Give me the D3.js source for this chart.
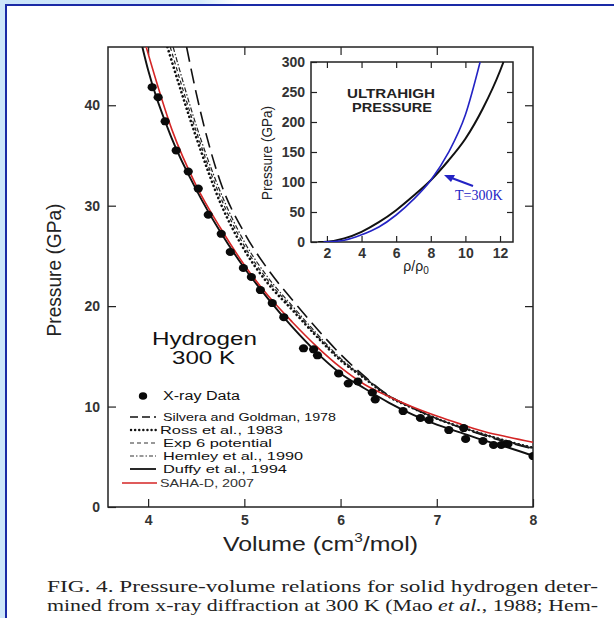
<!DOCTYPE html>
<html><head><meta charset="utf-8">
<script src="https://cdn.jsdelivr.net/npm/d3@7"></script>
<style>body{margin:0;background:#fff}svg{display:block}</style>
</head><body>
<svg id="c" width="614" height="618"></svg>
<script>
// ---------- data ----------
const duffyV = [3.94,4.0,4.25,4.5,4.75,5.0,5.25,5.5,5.75,6.0,6.25,6.5,6.75,7.0,7.25,7.5,7.75,8.0];
const duffyP = [45.8,43.5,36.6,31.6,27.4,23.8,20.7,17.9,15.4,13.3,11.8,10.4,9.2,8.2,7.4,6.6,5.9,5.1];
const sahaV = [3.98,4.25,4.5,4.75,5.0,5.25,5.5,5.75,6.0,6.25,6.5,6.75,7.0,7.25,7.5,7.75,8.0];
const sahaP = [45.8,37.5,32.0,27.8,24.1,21.0,18.4,16.0,13.9,12.2,11.0,9.95,9.05,8.25,7.5,6.95,6.45];
const silveraV = [4.40,4.5,4.75,5.0,5.25,5.5,5.75,6.0,6.25,6.5,6.75,7.0,7.25,7.5,7.75,8.0];
const silveraP = [45.8,41.2,32.4,27.3,23.6,20.6,17.8,15.2,13.0,11.1,9.85,8.8,7.9,7.1,6.4,5.8];
const rossV = [4.2,4.5,4.75,5.0,5.25,5.5,5.75,6.0,6.25,6.5,6.75,7.0,7.25,7.5,7.75,8.0];
const rossP = [45.8,36.8,30.3,25.6,22.2,19.6,17.0,14.6,12.8,11.0,9.85,8.8,7.95,7.2,6.5,5.9];
const exp6V = [4.23,4.5,4.75,5.0,5.25,5.5,5.75,6.0,6.25,6.5,6.75,7.0,7.25,7.5,7.75,8.0];
const exp6P = [45.8,37.4,30.9,26.0,22.5,19.8,17.1,14.7,12.85,11.05,9.85,8.8,7.95,7.2,6.5,5.9];
const hemleyV = [4.26,4.5,4.75,5.0,5.25,5.5,5.75,6.0,6.25,6.5,6.75,7.0,7.25,7.5,7.75,8.0];
const hemleyP = [45.8,38.0,31.4,26.4,22.8,20.0,17.3,14.8,12.9,11.1,9.9,8.8,7.95,7.2,6.5,5.85];
const xrayV = [4.042,4.104,4.177,4.292,4.417,4.521,4.625,4.76,4.854,4.99,5.073,5.167,5.29,5.41,5.615,5.72,5.76,5.98,6.08,6.18,6.33,6.36,6.65,6.83,6.92,7.125,7.28,7.30,7.48,7.59,7.67,7.74,8.0];
const xrayP = [41.8,40.8,38.4,35.5,33.4,31.7,29.1,27.2,25.4,23.8,22.9,21.6,20.3,18.9,15.8,15.7,15.1,13.3,12.3,12.5,11.4,10.7,9.55,8.86,8.66,7.66,7.86,6.77,6.57,6.17,6.17,6.27,5.07];
const xTicks = [4,5,6,7,8];
const yTicks = [0,10,20,30,40];

// inset
const insetBlackRho = [1.5,2,3,4,5,6,7,8,9,10,11,12,12.2];
const insetBlackP = [0,0.5,6,17,33,53,77,103,135,172,222,285,300];
const insetBlueRho = [1.8,2,3,4,5,6,7,8,9,10,10.85];
const insetBlueP = [0,0.2,3,12,25,45,71,103,148,212,300];
const insetXTicks = [2,4,6,8,10,12];
const insetYTicks = [0,50,100,150,200,250,300];

const legendLabels = ["X-ray Data","Silvera and Goldman, 1978","Ross et al., 1983","Exp 6 potential","Hemley et al., 1990","Duffy et al., 1994","SAHA-D, 2007"];

// ---------- drawing ----------
const SANS = "Liberation Sans, Arial, sans-serif";
const SERIF = "Liberation Serif, Times New Roman, serif";
const svg = d3.select("#c");
const defs = svg.append("defs");
const bg = defs.append("linearGradient").attr("id","bgGrad").attr("x1","0").attr("y1","0").attr("x2","1").attr("y2","0.15");
bg.append("stop").attr("offset","0").attr("stop-color","#c9e4fa");
bg.append("stop").attr("offset","0.32").attr("stop-color","#d6ebfb");
bg.append("stop").attr("offset","0.38").attr("stop-color","#ffffff");
svg.append("rect").attr("width",614).attr("height",618).attr("fill","url(#bgGrad)");
svg.append("rect").attr("x",0).attr("y",0).attr("width",6).attr("height",618).attr("fill","#cde6fa");
svg.append("rect").attr("x",6).attr("y",5).attr("width",620).attr("height",630).attr("fill","#fff")
  .attr("stroke","#1a2aa6").attr("stroke-width",2);

const M = {l:108, r:533, t:47, b:507};
const x = d3.scaleLinear().domain([3.583,8]).range([M.l,M.r]);
const y = d3.scaleLinear().domain([0,45.8]).range([M.b,M.t]);

defs.append("clipPath").attr("id","clipMain").append("rect")
  .attr("x",M.l).attr("y",M.t).attr("width",M.r-M.l).attr("height",M.b-M.t);

const tickFont = (g,fs) => g.selectAll("text").attr("font-family",SANS)
  .attr("font-size",fs).attr("font-weight","bold").attr("fill","#333");

const fmt = d3.format("d");
const gL = svg.append("g").attr("transform",`translate(${M.l},0)`)
  .call(d3.axisLeft(y).tickValues(yTicks).tickFormat(fmt).tickSize(-8).tickPadding(8));
const gB = svg.append("g").attr("transform",`translate(0,${M.b})`)
  .call(d3.axisBottom(x).tickValues(xTicks).tickFormat(fmt).tickSize(-8).tickPadding(5));
const gT = svg.append("g").attr("transform",`translate(0,${M.t})`)
  .call(d3.axisTop(x).tickValues(xTicks.slice(0,4)).tickSize(-8).tickFormat(""));
const gR = svg.append("g").attr("transform",`translate(${M.r},0)`)
  .call(d3.axisRight(y).tickValues(yTicks.slice(1)).tickSize(-8).tickFormat(""));
[gL,gB,gT,gR].forEach(g=>{g.select(".domain").remove(); g.selectAll("line").attr("stroke","#222").attr("stroke-width",1.2); tickFont(g,14);});
gB.selectAll("text").attr("dy","0.9em");
svg.append("rect").attr("x",M.l).attr("y",M.t).attr("width",M.r-M.l).attr("height",M.b-M.t)
  .attr("fill","none").attr("stroke","#222").attr("stroke-width",1.5);

const line = d3.line().x(d=>x(d[0])).y(d=>y(d[1])).curve(d3.curveMonotoneX);
const pair = (a,b)=>a.map((v,i)=>[v,b[i]]);
const curves = svg.append("g").attr("clip-path","url(#clipMain)");
const styles = [
  {v:silveraV,p:silveraP,dash:"15,7",w:1.6,c:"#111",cap:"butt"},
  {v:rossV,p:rossP,dash:"0.1,4.2",w:2.6,c:"#111",cap:"round"},
  {v:exp6V,p:exp6P,dash:"4,3",w:1.2,c:"#222",cap:"butt"},
  {v:hemleyV,p:hemleyP,dash:"5,2,1.5,2",w:1.2,c:"#222",cap:"butt"},
  {v:duffyV,p:duffyP,dash:null,w:1.9,c:"#111",cap:"butt"},
  {v:sahaV,p:sahaP,dash:null,w:1.6,c:"#d42525",cap:"butt"}
];
styles.forEach(s=>{
  curves.append("path").attr("d",line(pair(s.v,s.p))).attr("fill","none")
    .attr("stroke",s.c).attr("stroke-width",s.w).attr("stroke-dasharray",s.dash)
    .attr("stroke-linecap",s.cap);
});
curves.selectAll("ellipse.pt").data(pair(xrayV,xrayP)).join("ellipse").attr("class","pt")
  .attr("cx",d=>x(d[0])).attr("cy",d=>y(d[1])).attr("rx",4.6).attr("ry",4).attr("fill","#0a0a0a");

// axis titles
svg.append("text").attr("transform","translate(61,270) rotate(-90)").attr("text-anchor","middle")
  .attr("font-family",SANS).attr("font-size",20).attr("fill","#222")
  .attr("textLength",133).attr("lengthAdjust","spacingAndGlyphs")
  .text("Pressure (GPa)");
const xt = svg.append("text").attr("x",223).attr("y",551)
  .attr("font-family",SANS).attr("font-size",21).attr("fill","#222")
  .attr("textLength",195).attr("lengthAdjust","spacingAndGlyphs");
xt.append("tspan").text("Volume (cm");
xt.append("tspan").attr("dy",-9).attr("font-size",13).text("3");
xt.append("tspan").attr("dy",9).text("/mol)");

// Hydrogen label
svg.append("text").attr("x",152).attr("y",345)
  .attr("font-family",SANS).attr("font-size",19).attr("fill","#111")
  .attr("textLength",105).attr("lengthAdjust","spacingAndGlyphs").text("Hydrogen");
svg.append("text").attr("x",172).attr("y",364)
  .attr("font-family",SANS).attr("font-size",19).attr("fill","#111")
  .attr("textLength",63).attr("lengthAdjust","spacingAndGlyphs").text("300 K");

// legend
const leg = svg.append("g").attr("font-family",SANS).attr("fill","#111");
const legY = [400,421,434,447,460,473,487];
const legX = [163,163,160,163,163,163,160];
const legLen = [77,173,123,109,140,124,94];
leg.append("ellipse").attr("cx",143).attr("cy",legY[0]-4).attr("rx",4.2).attr("ry",3.8).attr("fill","#0a0a0a");
const legSamples = [null,
  {dash:"8,4",w:1.3,c:"#111",cap:"butt",x1:130},
  {dash:"0.1,4",w:2.4,c:"#111",cap:"round",x1:131},
  {dash:"4,3",w:1.1,c:"#333",cap:"butt",x1:130},
  {dash:"4,2,1.5,2",w:1.1,c:"#333",cap:"butt",x1:130},
  {dash:null,w:1.8,c:"#111",cap:"butt",x1:130},
  {dash:null,w:1.6,c:"#d42525",cap:"butt",x1:122}];
legendLabels.forEach((t,i)=>{
  const s = legSamples[i];
  if (s) leg.append("line").attr("x1",s.x1).attr("x2",i===6?157:156).attr("y1",legY[i]-4).attr("y2",legY[i]-4)
    .attr("stroke",s.c).attr("stroke-width",s.w).attr("stroke-dasharray",s.dash).attr("stroke-linecap",s.cap);
  leg.append("text").attr("x",legX[i]).attr("y",legY[i])
    .attr("font-size",i===0?12.5:11).attr("fill",i===6?"#333":"#111")
    .attr("textLength",legLen[i]).attr("lengthAdjust","spacingAndGlyphs").text(t);
});

// ---------- inset ----------
const I = {l:311, r:513, t:62, b:242};
const ix = d3.scaleLinear().domain([1.08,12.75]).range([I.l,I.r]);
const iy = d3.scaleLinear().domain([0,300]).range([I.b,I.t]);
svg.append("rect").attr("x",I.l).attr("y",I.t).attr("width",I.r-I.l).attr("height",I.b-I.t).attr("fill","#fff");
defs.append("clipPath").attr("id","clipIn").append("rect")
  .attr("x",I.l).attr("y",I.t-2).attr("width",I.r-I.l).attr("height",I.b-I.t+2);
const iL = svg.append("g").attr("transform",`translate(${I.l},0)`)
  .call(d3.axisLeft(iy).tickValues(insetYTicks).tickSize(-6).tickPadding(6));
const iB = svg.append("g").attr("transform",`translate(0,${I.b})`)
  .call(d3.axisBottom(ix).tickValues(insetXTicks).tickSize(-6).tickPadding(4));
const iT = svg.append("g").attr("transform",`translate(0,${I.t})`)
  .call(d3.axisTop(ix).tickValues(insetXTicks.slice(0,5)).tickSize(-6).tickFormat(""));
const iR = svg.append("g").attr("transform",`translate(${I.r},0)`)
  .call(d3.axisRight(iy).tickValues(insetYTicks.slice(1,6)).tickSize(-6).tickFormat(""));
[iL,iB,iT,iR].forEach(g=>{g.select(".domain").remove(); g.selectAll("line").attr("stroke","#222").attr("stroke-width",1.2); tickFont(g,14);});
iB.selectAll("text").attr("dy","0.85em");
svg.append("rect").attr("x",I.l).attr("y",I.t).attr("width",I.r-I.l).attr("height",I.b-I.t)
  .attr("fill","none").attr("stroke","#222").attr("stroke-width",1.5);
const iline = d3.line().x(d=>ix(d[0])).y(d=>iy(d[1])).curve(d3.curveMonotoneX);
const ic = svg.append("g").attr("clip-path","url(#clipIn)");
ic.append("path").attr("d",iline(pair(insetBlackRho,insetBlackP))).attr("fill","none").attr("stroke","#111").attr("stroke-width",2);
ic.append("path").attr("d",iline(pair(insetBlueRho,insetBlueP))).attr("fill","none").attr("stroke","#2323c4").attr("stroke-width",1.6);

svg.append("text").attr("transform","translate(272,153) rotate(-90)").attr("text-anchor","middle")
  .attr("font-family",SANS).attr("font-size",14).attr("fill","#222")
  .attr("textLength",94).attr("lengthAdjust","spacingAndGlyphs")
  .text("Pressure (GPa)");
const rl = svg.append("text").attr("x",416).attr("y",271).attr("text-anchor","middle")
  .attr("font-family",SANS).attr("font-size",14).attr("fill","#222");
rl.append("tspan").text("ρ/ρ");
rl.append("tspan").attr("dy",3).attr("font-size",10).text("0");
svg.append("text").attr("x",347).attr("y",98)
  .attr("font-family",SANS).attr("font-size",13).attr("font-weight","bold").attr("fill","#222")
  .attr("textLength",88).attr("lengthAdjust","spacingAndGlyphs").text("ULTRAHIGH");
svg.append("text").attr("x",352).attr("y",112)
  .attr("font-family",SANS).attr("font-size",13).attr("font-weight","bold").attr("fill","#222")
  .attr("textLength",80).attr("lengthAdjust","spacingAndGlyphs").text("PRESSURE");

// T=300K annotation
svg.append("line").attr("x1",473).attr("y1",186).attr("x2",449).attr("y2",177)
  .attr("stroke","#2323c4").attr("stroke-width",2);
svg.append("path").attr("d","M444,175 L455,175 L451,182 z").attr("fill","#2323c4");
svg.append("text").attr("x",455).attr("y",200).attr("font-family",SERIF)
  .attr("font-size",14).attr("fill","#2323c4").text("T=300K");

// ---------- caption ----------
const cap1 = svg.append("text").attr("x",47).attr("y",592).attr("font-family",SERIF)
  .attr("font-size",16.5).attr("fill","#222").attr("textLength",551).attr("lengthAdjust","spacingAndGlyphs");
cap1.text("FIG. 4.  Pressure-volume relations for solid hydrogen deter-");
const cap2 = svg.append("text").attr("x",47).attr("y",611).attr("font-family",SERIF)
  .attr("font-size",16.5).attr("fill","#222").attr("textLength",551).attr("lengthAdjust","spacingAndGlyphs");
cap2.append("tspan").text("mined from x-ray diffraction at 300 K (Mao ");
cap2.append("tspan").attr("font-style","italic").text("et al.");
cap2.append("tspan").text(", 1988; Hem-");
</script>
</body></html>
